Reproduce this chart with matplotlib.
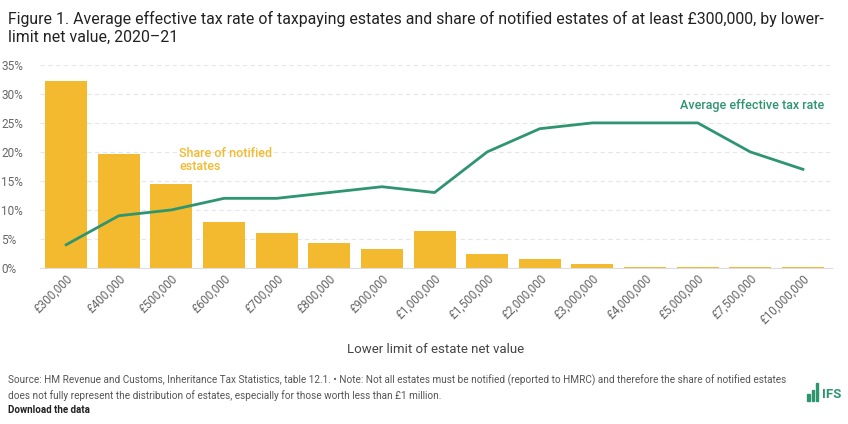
import matplotlib.pyplot as plt
import matplotlib.ticker as mticker

plt.rcParams['font.family'] = ['Roboto', 'DejaVu Sans']

# data
bands = ['£300,000', '£400,000', '£500,000', '£600,000', '£700,000', '£800,000',
         '£900,000', '£1,000,000', '£1,500,000', '£2,000,000', '£3,000,000',
         '£4,000,000', '£5,000,000', '£7,500,000', '£10,000,000']
share_notified = [32.3, 19.7, 14.5, 8.0, 6.0, 4.3, 3.3, 6.3, 2.4, 1.5, 0.6, 0.2, 0.2, 0.1, 0.1]
avg_tax_rate = [4, 9, 10, 12, 12, 13, 14, 13, 20, 24, 25, 25, 25, 20, 17]

bar_col = '#F3BA2F'
line_col = '#2E9570'
grey = '#666666'

fig = plt.figure(figsize=(8.48, 4.24), dpi=100)
ax = fig.add_axes([0.047, 0.368, 0.934, 0.479])

x = range(len(bands))
ax.bar(x, share_notified, width=0.8, color=bar_col, zorder=2)
ax.plot(x, avg_tax_rate, color=line_col, lw=2, zorder=3)

ax.set_xlim(-0.5, len(bands) - 0.45)
ax.set_ylim(0, 35)
ax.yaxis.set_major_locator(mticker.MultipleLocator(5))
ax.yaxis.set_major_formatter(mticker.FuncFormatter(lambda v, p: f'{v:.0f}%'))
ax.grid(axis='y', color='#e6e6e6', lw=0.8, ls=(0, (4, 3)), zorder=0)
for s in ['top', 'right', 'left']:
    ax.spines[s].set_visible(False)
ax.spines['bottom'].set_color('#dddddd')
ax.tick_params(axis='y', length=0, labelsize=8.5, labelcolor=grey, pad=4)
ax.tick_params(axis='x', length=0, labelsize=8.5, labelcolor=grey, pad=3)
ax.set_xticks(list(x))
ax.set_xticklabels(bands, rotation=45, ha='right', rotation_mode='anchor')
for lab in ax.get_yticklabels():
    lab.set_horizontalalignment('left')
    lab.set_x(-0.042)

ax.set_xlabel('Lower limit of estate net value', fontsize=9.5, color='#444444', labelpad=12)

ax.text(2.15, 16.3, 'Share of notified\nestates', color=bar_col, fontsize=9,
        fontweight='medium', va='bottom', ha='left', linespacing=1.0)
ax.text(14.4, 26.8, 'Average effective tax rate', color=line_col, fontsize=9,
        fontweight='medium', va='bottom', ha='right')

fig.text(0.009, 0.975, 'Figure 1. Average effective tax rate of taxpaying estates and share of notified estates of at least £300,000, by lower-\nlimit net value, 2020–21',
         fontsize=11.4, color='#222222', va='top', ha='left', linespacing=1.3)

fig.text(0.009, 0.055, 'Source: HM Revenue and Customs, Inheritance Tax Statistics, table 12.1. • Note: Not all estates must be notified (reported to HMRC) and therefore the share of notified estates\ndoes not fully represent the distribution of estates, especially for those worth less than £1 million.',
         fontsize=7.2, color='#555555', va='bottom', ha='left', linespacing=1.4)
fig.text(0.009, 0.022, 'Download the data', fontsize=7, color='#222222',
         fontweight='bold', va='bottom', ha='left')

# IFS logo
for i, h in enumerate([0.016, 0.026, 0.042]):
    fig.patches.append(plt.Rectangle((0.952 + i * 0.005, 0.055), 0.0032, h,
                                     transform=fig.transFigure, color=line_col))
fig.text(0.969, 0.055, 'IFS', fontsize=9.5, fontweight='bold', color=line_col,
         va='bottom', ha='left')

fig.savefig('out.png', dpi=100)
